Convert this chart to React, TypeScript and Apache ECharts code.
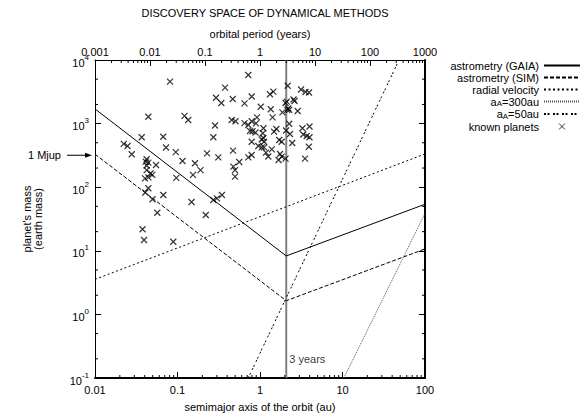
import React, { useEffect, useRef } from "react";
import * as echarts from "echarts";

const FONT = '"Liberation Sans", Arial, Helvetica, sans-serif';

// axis ranges / tick labels
const xTickLabels = ["0.01", "0.1", "1", "10", "100"];
const periodTickLabels = ["0.001", "0.01", "0.1", "1", "10", "100", "1000"];
const yTickExponents = ["-1", "0", "1", "2", "3", "4"];
const xMinorTicks = [
  0.02, 0.03, 0.04, 0.05, 0.06, 0.07, 0.08, 0.09,
  0.2, 0.3, 0.4, 0.5, 0.6, 0.7, 0.8, 0.9,
  2, 3, 4, 5, 6, 7, 8, 9,
  20, 30, 40, 50, 60, 70, 80, 90,
];
const periodMinorTicks = [
  0.002, 0.003, 0.004, 0.005, 0.006, 0.007, 0.008, 0.009,
  0.02, 0.03, 0.04, 0.05, 0.06, 0.07, 0.08, 0.09,
  0.2, 0.3, 0.4, 0.5, 0.6, 0.7, 0.8, 0.9,
  2, 3, 4, 5, 6, 7, 8, 9,
  20, 30, 40, 50, 60, 70, 80, 90,
  200, 300, 400, 500, 600, 700, 800, 900,
];
const yMinorTicks = [0.2, 0.5, 2, 5, 20, 50, 200, 500, 2000, 5000];

// detection limits (semimajor axis in au, mass in earth masses)
const gaiaA = [0.01, 2.08, 100];
const gaiaM = [1700, 8.3, 54];
const simA = [0.01, 2.08, 100];
const simM = [330, 1.64, 10.7];
const rvA = [0.01, 100];
const rvM = [3.56, 333];
const a300A = [10.4, 100];
const a300M = [0.1, 39];
const a50A = [0.72, 48.4];
const a50M = [0.1, 10000];

// 3 years period marker (period axis)
const periodMarkYears = 3;
const periodMarkRange = [0.1, 10000];
const periodMarkLabelMass = 0.2;
const jupiterMass = 318;

// known planets
const planetA = [
  0.721, 0.0811, 0.377, 2.17, 0.293, 0.34, 0.467, 0.649, 0.793, 1.32,
  1.45, 3.14, 3.56, 3.93, 2.04, 2.11, 2.55, 2.62, 1.02, 1.35,
  2.14, 2.26, 2.2, 2.86, 1.87, 0.0443, 0.1216, 0.135, 0.454, 0.505,
  0.649, 0.721, 0.793, 0.92, 1.42, 2.26, 0.285, 0.894, 0.757, 0.811,
  0.882, 1.1, 1.08, 1.48, 1.58, 2.07, 2.31, 3.27, 3.98, 3.35,
  3.68, 3.98, 0.0368, 0.0671, 0.272, 0.793, 1.05, 1.1, 1.12, 1.05,
  1.12, 0.954, 1.71, 1.83, 1.39, 2.46, 3.91, 0.0223, 0.0248, 0.0726,
  0.0279, 0.0953, 0.228, 0.312, 0.471, 0.721, 0.793, 1.18, 1.26, 1.75,
  1.83, 2.04, 1.68, 3.51, 0.0423, 0.0412, 0.0443, 0.0549, 0.0423, 0.0471,
  0.0495, 0.0443, 0.0404, 0.115, 0.163, 0.19, 0.154, 0.475, 0.498, 0.498,
  0.56, 0.0967, 0.0443, 0.0407, 0.0673, 0.0498, 0.148, 0.272, 0.301, 0.346,
  0.0569, 0.22, 0.0377, 0.0393, 0.0889, 0.0423,
];
const planetM = [
  5810, 4560, 3670, 3940, 2550, 2110, 2440, 2080, 2670, 2890,
  3180, 3440, 3140, 3080, 2110, 2210, 2390, 2270, 1840, 1680,
  1640, 1640, 1730, 1580, 1500, 1280, 1320, 1140, 1140, 1090,
  1020, 951, 1090, 1250, 1250, 993, 933, 1010, 765, 757,
  724, 844, 704, 746, 822, 779, 686, 844, 900, 674,
  638, 609, 609, 622, 609, 519, 562, 594, 519, 424,
  424, 444, 552, 519, 394, 495, 433, 481, 444, 421,
  330, 357, 341, 295, 375, 295, 321, 349, 304, 333,
  302, 281, 268, 281, 275, 252, 243, 223, 186, 164,
  156, 143, 138, 258, 238, 186, 156, 211, 186, 147,
  249, 140, 96.2, 82.6, 75.4, 64.6, 58.5, 62.9, 66.9, 75.4,
  39.7, 36.5, 21.8, 14.8, 13.9, 219,
];

const zip = (a: number[], b: number[]) => a.map((v, i) => [v, b[i]]);

const lineLegendNames = [
  "astrometry (GAIA)",
  "astrometry (SIM)",
  "radial velocity",
  "a_A=300au",
  "a_A=50au",
];
const planetLegendName = "known planets";

export default function App() {
  const ref = useRef<HTMLDivElement>(null);
  useEffect(() => {
    const chart = echarts.init(ref.current!, null, { renderer: "svg" });
    const baseText = { fontFamily: FONT, fontSize: 11, color: "#000" };

    const lineSeries = (name: string, a: number[], m: number[], style: any) => ({
      name,
      type: "line",
      data: zip(a, m),
      symbol: "none",
      silent: true,
      lineStyle: { width: 1, color: "#000", ...style },
      itemStyle: { color: style.color || "#000" },
      z: 3,
    });

    const tickSeries = (
      values: number[],
      xAxisIndex: number,
      kind: "bottom" | "top" | "y"
    ) => ({
      type: "custom",
      xAxisIndex,
      yAxisIndex: 0,
      silent: true,
      data: values.map((v) => (kind === "y" ? [1, v] : [v, 1])),
      renderItem: (params: any, api: any) => {
        const cs = params.coordSys;
        const p = api.coord([api.value(0), api.value(1)]);
        const st = { stroke: "#000", lineWidth: 1 };
        if (kind === "bottom") {
          return { type: "line", shape: { x1: p[0], y1: cs.y + cs.height, x2: p[0], y2: cs.y + cs.height - 3 }, style: st };
        }
        if (kind === "top") {
          return { type: "line", shape: { x1: p[0], y1: cs.y, x2: p[0], y2: cs.y + 3 }, style: st };
        }
        return {
          type: "group",
          children: [
            { type: "line", shape: { x1: cs.x, y1: p[1], x2: cs.x + 3, y2: p[1] }, style: st },
            { type: "line", shape: { x1: cs.x + cs.width, y1: p[1], x2: cs.x + cs.width - 3, y2: p[1] }, style: st },
          ],
        };
      },
      z: 5,
    });

    const option: any = {
      animation: false,
      backgroundColor: "#fff",
      textStyle: { fontFamily: FONT },
      title: {
        text: "DISCOVERY SPACE OF DYNAMICAL METHODS",
        left: 260,
        top: 2,
        textAlign: "center",
        textStyle: { ...baseText, fontWeight: "normal", fontSize: 11 },
      },
      grid: { left: 95, right: 161, top: 60, bottom: 40 },
      legend: {
        data: [
          ...lineLegendNames.map((name) => ({
            name,
            itemStyle: { color: "rgba(0,0,0,0)", borderWidth: 0, opacity: 0 },
          })),
          { name: planetLegendName, itemStyle: { borderWidth: 1 } },
        ],
        orient: "vertical",
        right: 5,
        top: 60,
        padding: 0,
        align: "right",
        itemWidth: 36,
        itemHeight: 6,
        itemGap: 1,
        selectedMode: false,
        textStyle: {
          ...baseText,
          lineHeight: 10,
          rich: {
            sub: { fontSize: 8, fontFamily: FONT, color: "#000", padding: [4, 0, 0, 0] },
          },
        },
        formatter: (name: string) => name.replace("_A", "{sub|A}"),
      },
      xAxis: [
        {
          type: "log",
          logBase: 10,
          min: 0.01,
          max: 100,
          splitNumber: 4,
          position: "bottom",
          name: "semimajor axis of the orbit (au)",
          nameLocation: "middle",
          nameGap: 23,
          nameTextStyle: baseText,
          axisLine: { lineStyle: { color: "#000", width: 2 } },
          axisTick: { inside: true, length: 6, lineStyle: { color: "#000" } },
          axisLabel: {
            ...baseText,
            margin: 6,
            formatter: (v: number) => xTickLabels[Math.round(Math.log10(v)) + 2],
          },
          splitLine: { show: false },
        },
        {
          type: "log",
          logBase: 10,
          min: 0.001,
          max: 1000,
          splitNumber: 6,
          position: "top",
          name: "orbital period (years)",
          nameLocation: "middle",
          nameGap: 21,
          nameTextStyle: baseText,
          axisLine: { lineStyle: { color: "#000", width: 1 } },
          axisTick: { inside: true, length: 6, lineStyle: { color: "#000" } },
          axisLabel: {
            ...baseText,
            lineHeight: 11,
            margin: 3,
            formatter: (v: number) => periodTickLabels[Math.round(Math.log10(v)) + 3],
          },
          splitLine: { show: false },
        },
      ],
      yAxis: [
        {
          type: "log",
          logBase: 10,
          min: 0.1,
          max: 10000,
          splitNumber: 5,
          position: "left",
          name: "planet's mass\n(earth mass)",
          nameLocation: "middle",
          nameGap: 52,
          nameRotate: 90,
          nameTextStyle: { ...baseText, lineHeight: 11 },
          axisLine: { lineStyle: { color: "#000", width: 1 } },
          axisTick: { inside: true, length: 6, lineStyle: { color: "#000" } },
          axisLabel: {
            ...baseText,
            margin: 6,
            formatter: (v: number) => `{b|10}{s|${yTickExponents[Math.round(Math.log10(v)) + 1]}}`,
            rich: {
              b: { fontSize: 11, lineHeight: 11, fontFamily: FONT, color: "#000", padding: [5, 0, 0, 0] },
              s: { fontSize: 8, lineHeight: 8, fontFamily: FONT, color: "#000", padding: [0, 0, 6, 0] },
            },
          },
          splitLine: { show: false },
        },
        {
          type: "log",
          logBase: 10,
          min: 0.1,
          max: 10000,
          splitNumber: 5,
          position: "right",
          axisLine: { lineStyle: { color: "#000", width: 2 } },
          axisTick: { inside: true, length: 6, lineStyle: { color: "#000" } },
          axisLabel: { show: false },
          splitLine: { show: false },
        },
      ],
      series: [
        lineSeries("astrometry (GAIA)", gaiaA, gaiaM, { type: "solid" }),
        lineSeries("astrometry (SIM)", simA, simM, { type: [4, 2] }),
        lineSeries("radial velocity", rvA, rvM, { type: [2, 2.5] }),
        lineSeries("a_A=300au", a300A, a300M, { type: [1, 1], color: "#555" }),
        lineSeries("a_A=50au", a50A, a50M, { type: [2, 1.5, 2, 3.5] }),
        {
          name: planetLegendName,
          type: "scatter",
          data: zip(planetA, planetM),
          symbol: "path://M0,0L10,10M10,0L0,10",
          symbolSize: 6,
          silent: true,
          itemStyle: { color: "rgba(0,0,0,0)", borderColor: "#000", borderWidth: 1.2 },
          z: 4,
        },
        {
          name: "3 years",
          type: "line",
          xAxisIndex: 1,
          data: periodMarkRange.map((m) => [periodMarkYears, m]),
          symbol: "none",
          silent: true,
          lineStyle: { color: "#808080", width: 2 },
          z: 2,
        },
        {
          name: "3 years label",
          type: "scatter",
          xAxisIndex: 1,
          data: [[periodMarkYears, periodMarkLabelMass]],
          symbolSize: 0,
          silent: true,
          label: {
            show: true,
            position: "right",
            distance: 3,
            formatter: "3 years",
            ...baseText,
          },
        },
        tickSeries(xMinorTicks, 0, "bottom"),
        tickSeries(periodMinorTicks, 1, "top"),
        tickSeries(yMinorTicks, 0, "y"),
      ],
    };
    chart.setOption(option);

    const yJ = chart.convertToPixel({ yAxisIndex: 0 }, jupiterMass) as number;
    chart.setOption({
      graphic: [
        {
          type: "text",
          x: 61,
          y: yJ,
          style: { text: "1 Mjup", font: `11px ${FONT}`, fill: "#000", align: "right", verticalAlign: "middle" },
        },
        { type: "line", shape: { x1: 67, y1: yJ, x2: 89, y2: yJ }, style: { stroke: "#000", lineWidth: 1 } },
        {
          type: "polygon",
          shape: { points: [[92, yJ], [85, yJ - 2.5], [85, yJ + 2.5]] },
          style: { fill: "#000" },
        },
      ],
    });

    return () => chart.dispose();
  }, []);
  return <div ref={ref} style={{ position: "fixed", left: 0, top: 0, width: 586, height: 418 }} />;
}
